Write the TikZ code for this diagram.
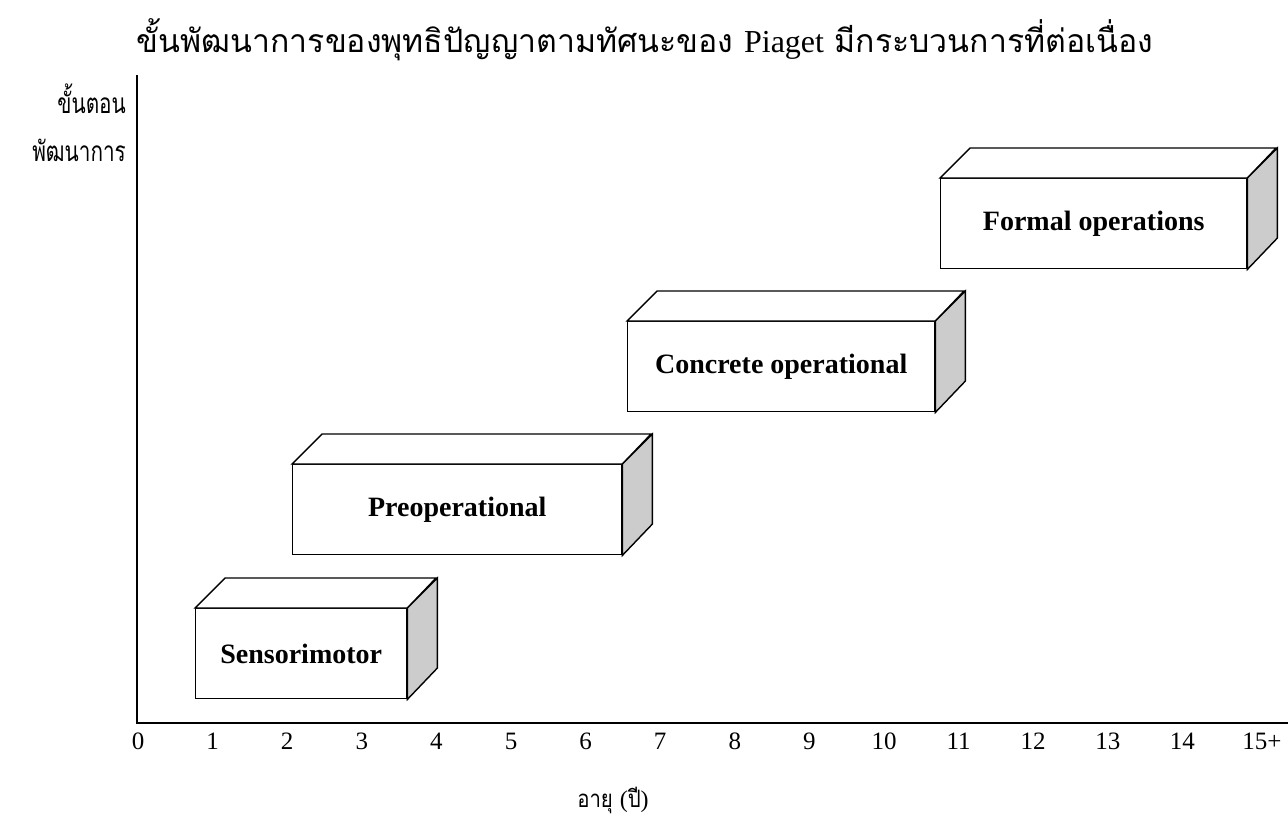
\documentclass[tikz,border=0pt]{standalone}
\usepackage{fontspec}
\setmainfont{Liberation Serif}
\newfontfamily\thaifont[Script=Thai]{Loma}
\newfontfamily\thainarrow[Script=Thai, FakeStretch=0.85]{Loma}
\newfontfamily\thaitall[Script=Thai, FakeStretch=0.74]{Loma}
\newcommand\stageblock[6]{%
  % #1 name, #2 x, #3 y of front top-left, #4 width, #5 depth, #6 label
  \node[stagefront, minimum width=#4pt, anchor=north west] (#1) at (#2,#3) {#6};
  \draw[stagetop] (#1.north west) -- ++(#5,-#5) -- ++(#4,0) -- (#1.north east) -- cycle;
  \draw[stageside] (#1.north east) -- ++(#5,-#5) -- ++(0,90) -- (#1.south east) -- cycle;
}
\begin{document}
\begin{tikzpicture}[x=1pt,y=-1pt,
  stagefront/.style={draw, line width=1.4pt, fill=white, minimum height=90pt, inner sep=0pt,
    font=\fontsize{28}{30}\selectfont\bfseries},
  stagetop/.style={draw, line width=1.4pt, fill=white, line join=miter},
  stageside/.style={draw, line width=1.4pt, fill=black!20, line join=miter},
  axis/.style={line width=2pt},
  tick/.style={font=\fontsize{25}{28}\selectfont, inner sep=0pt},
  titlelabel/.style={font=\fontsize{32}{36}\selectfont\thaifont, inner sep=0pt},
  thailabel/.style={font=\fontsize{24}{28}\selectfont\thainarrow, inner sep=0pt},
  ylabel/.style={font=\fontsize{28}{32}\selectfont\thaitall, inner sep=0pt}]
\useasboundingbox (0,0) rectangle (1288,839);
\fill[white] (0,0) rectangle (1288,839);

% title
\node[titlelabel] (title) at (645,40)
  {ขั้นพัฒนาการของพุทธิปัญญาตามทัศนะของ {\rmfamily Piaget} มีกระบวนการที่ต่อเนื่อง};

% axes
\coordinate (ytop) at (137,75);
\coordinate (origin) at (137,723);
\coordinate (xend) at (1288,723);
\draw[axis] (ytop) -- (origin) -- (xend);

% axis captions
\node[ylabel, anchor=east] (ylab1) at (126,99) {ขั้นตอน};
\node[ylabel, anchor=east] (ylab2) at (126,150) {พัฒนาการ};
\node[thailabel] (xlab) at (613,800) {อายุ {\rmfamily(}ปี{\rmfamily)}};

% age ticks
\foreach \i in {0,...,14}
  \node[tick] (t\i) at ({138+74.6*\i},741) {\i};
\node[tick] (t15) at (1262,741) {15+};

% stages
\stageblock{sensori}{195}{608}{211}{30}{Sensorimotor}
\stageblock{preop}{292}{464}{329}{30}{Preoperational}
\stageblock{concrete}{627}{321}{307}{30}{Concrete operational}
\stageblock{formal}{940}{178}{306}{30}{Formal operations}
\end{tikzpicture}
\end{document}
